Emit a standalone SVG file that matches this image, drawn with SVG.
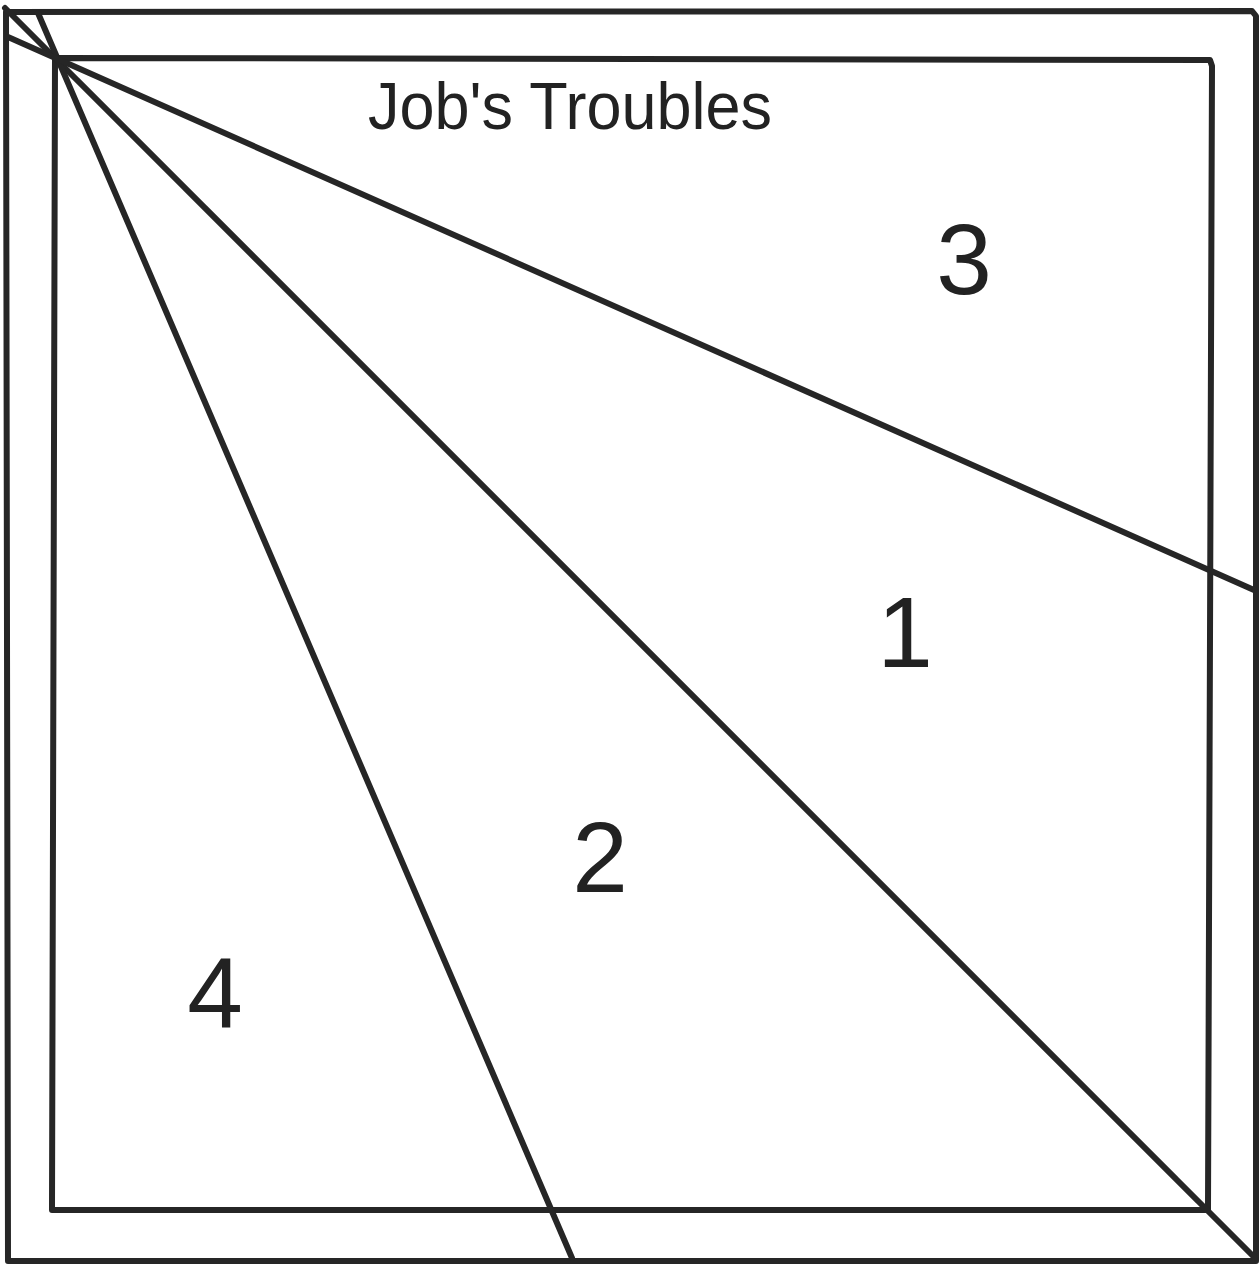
<svg xmlns="http://www.w3.org/2000/svg" width="1260" height="1269" viewBox="0 0 1260 1269">
<style>
.ln{stroke:#262626;stroke-width:6;fill:none;stroke-linecap:round;stroke-linejoin:round}
.t{font-family:"Liberation Sans",Arial,sans-serif;fill:#222}
.n{font-family:"Liberation Sans",Arial,sans-serif;fill:#222;font-size:100px;text-anchor:middle}
</style>
<rect width="1260" height="1269" fill="#fff"/>
<g id="outer-border"><path class="ln" d="M6,12 L1252,11 L1256,16 L1256,1261 L8,1261 Z"/></g>
<g id="inner-block"><path class="ln" d="M55,58 L1210,60 L1212,66 L1208,1210 L52,1210 Z"/></g>
<g id="connectors">
<line class="ln" x1="5" y1="8" x2="1255" y2="1258"/>
<line class="ln" x1="38" y1="13" x2="572" y2="1258"/>
<line class="ln" x1="8" y1="37" x2="1254" y2="590"/>
</g>
<g id="title"><text class="t" x="368" y="129" font-size="66" textLength="404" lengthAdjust="spacingAndGlyphs">Job's Troubles</text></g>
<g id="patch-3"><text class="n" x="964" y="294" font-size="108">3</text></g>
<g id="patch-1"><text class="n" x="905" y="667">1</text></g>
<g id="patch-2"><text class="n" x="600" y="892" font-size="125">2</text></g>
<g id="patch-4"><text class="n" x="215" y="1028" font-size="140">4</text></g>
</svg>
